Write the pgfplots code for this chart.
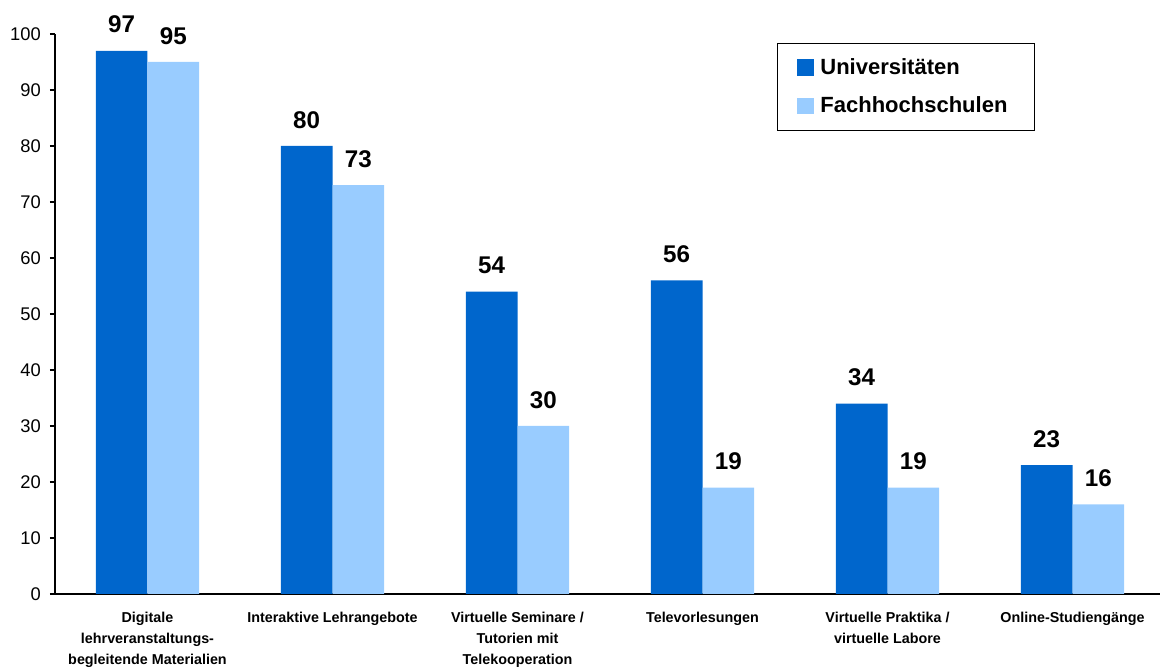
\documentclass[border=0pt]{standalone}
\usepackage{fontspec}
\setmainfont{Liberation Sans}
\usepackage{pgfplots}
\pgfplotsset{compat=1.18}
\definecolor{uni}{HTML}{0066CC}
\definecolor{fh}{HTML}{99CCFF}
\begin{document}
\begin{tikzpicture}
\begin{axis}[
  scale only axis,
  width=663pt, height=336pt,
  anchor=south west, at={(0,0)},
  xmin=-0.5, xmax=5.473,
  ymin=0, ymax=100,
  ybar=0pt, bar width=31pt,
  axis lines*=left,
  axis line style={black, line width=0.8pt},
  tick align=outside,
  tick style={black, line width=0.8pt},
  ytick={0,10,...,100},
  major tick length=3pt,
  xtick={0,1,2,3,4,5},
  x tick style={draw=none},
  minor xtick={-0.5,0.5,1.5,2.5,3.5,4.5},
  minor tick length=3pt,
  minor x tick style={black, line width=0.8pt},
  xticklabels={{Digitale\\lehrveranstaltungs-\\begleitende Materialien},{Interaktive Lehrangebote},{Virtuelle Seminare /\\Tutorien mit\\Telekooperation},{Televorlesungen},{Virtuelle Praktika /\\virtuelle Labore},{Online-Studiengänge}},
  xticklabel style={align=center, font=\bfseries\fontsize{8.6}{12.6}\selectfont, anchor=north, yshift=-4.5pt},
  yticklabel style={font=\fontsize{11}{13}\selectfont, xshift=-2pt},
  /pgf/number format/assume math mode=true,
  nodes near coords,
  every node near coord/.append style={font=\bfseries\fontsize{14.5}{16}\selectfont, black, yshift=7pt},
  legend style={at={(0.653,0.984)}, anchor=north west, draw=black, line width=0.6pt,
    font=\bfseries\fontsize{13.2}{16}\selectfont, inner xsep=12pt, inner ysep=7pt,
    nodes={inner xsep=4pt},
    row sep=8pt, legend cell align=left},
  legend image code/.code={\fill[#1,draw=none] (0pt,-5pt) rectangle (10pt,5pt);},
  clip=false,
]
\addplot[fill=uni, draw=none] coordinates {(0,97) (1,80) (2,54) (3,56) (4,34) (5,23)};
\addplot[fill=fh, draw=none] coordinates {(0,95) (1,73) (2,30) (3,19) (4,19) (5,16)};
\legend{Universitäten,Fachhochschulen}
\end{axis}
\pgfresetboundingbox
\path[use as bounding box] (-33pt,-44.4pt) rectangle (663pt,356.4pt);
\end{tikzpicture}
\end{document}
